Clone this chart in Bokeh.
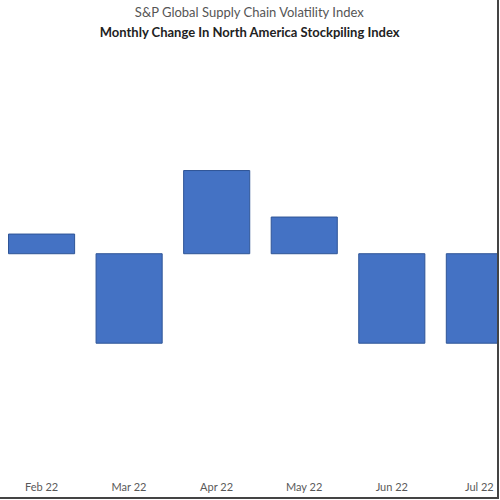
from bokeh.plotting import figure
from bokeh.models import Title, Range1d, ColumnDataSource
from bokeh.embed import file_html
from bokeh.resources import INLINE

months = ["Feb 22", "Mar 22", "Apr 22", "May 22", "Jun 22", "Jul 22"]
changes = [0.22, -1.0, 0.93, 0.41, -1.0, -1.0]

xpos = list(range(len(months)))
src = ColumnDataSource(dict(x=xpos, top=changes, month=months))

p = figure(width=499, height=499, output_backend="svg", toolbar_location=None,
           x_range=Range1d(-0.469, 5.23), y_range=Range1d(-2.456, 2.383),
           min_border_left=0, min_border_right=0, min_border_top=0, min_border_bottom=0)

p.add_layout(Title(text="Monthly Change In North America Stockpiling Index", align="center",
                   text_font="Lato", text_font_size="13px", text_font_style="bold",
                   text_color="#222222", standoff=1), "above")
p.add_layout(Title(text="S&P Global Supply Chain Volatility Index", align="center",
                   text_font="Lato", text_font_size="13px", text_font_style="normal",
                   text_color="#555555", standoff=3), "above")

p.vbar(x="x", top="top", bottom=0, width=0.755, source=src,
       fill_color="#4472C4", line_color="#2F5597", line_width=1)

p.xaxis.ticker = xpos
p.xaxis.major_label_overrides = {i: m for i, m in enumerate(months)}
p.xaxis.axis_line_color = None
p.xaxis.major_tick_line_color = None
p.xaxis.minor_tick_line_color = None
p.xaxis.major_label_text_font = "Lato"
p.xaxis.major_label_text_font_size = "11px"
p.xaxis.major_label_text_color = "#595959"
p.xaxis.major_label_standoff = 0
p.xaxis.axis_label = " "
p.xaxis.axis_label_text_font_size = "1px"
p.xaxis.axis_label_standoff = 0
p.yaxis.visible = False
p.xgrid.grid_line_color = None
p.ygrid.grid_line_color = None
p.outline_line_color = None
p.background_fill_color = "white"
p.border_fill_color = "white"
p.styles = {"border-right": "2px solid #444444", "border-bottom": "2px solid #444444"}

open("out.html", "w").write(file_html(p, INLINE))
